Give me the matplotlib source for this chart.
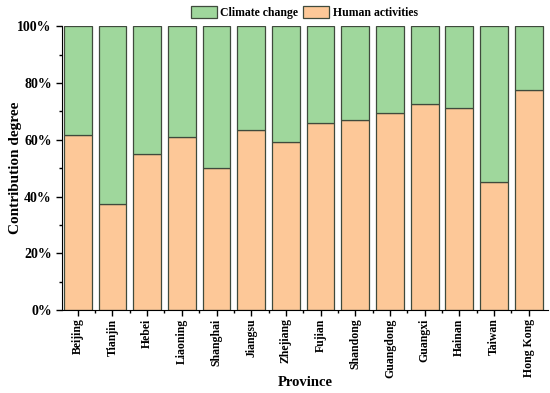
import numpy as np
import matplotlib
matplotlib.use("Agg")
import matplotlib.pyplot as plt
from matplotlib.ticker import PercentFormatter, MultipleLocator

# Data
provinces = ["Beijing", "Tianjin", "Hebei", "Liaoning", "Shanghai", "Jiangsu", "Zhejiang",
             "Fujian", "Shandong", "Guangdong", "Guangxi", "Hainan", "Taiwan", "Hong Kong"]
human = [61.8, 37.5, 55.1, 61.1, 50.1, 63.6, 59.4, 66.1, 66.9, 69.4, 72.7, 71.1, 45.3, 77.5]
climate = [100 - h for h in human]

plt.rcParams['font.family'] = ['Liberation Serif', 'DejaVu Serif']
plt.rcParams['font.weight'] = 'bold'

fig = plt.figure(figsize=(5.5, 3.93), dpi=100)
ax = fig.add_axes([0.113, 0.211, 0.883, 0.722])

x = np.arange(len(provinces))
edge = '#3f4a3c'
b1 = ax.bar(x, human, width=0.8, color='#fdc898', edgecolor=edge, linewidth=0.9,
            label='Human activities')
b2 = ax.bar(x, climate, width=0.8, bottom=human, color='#9fd79c', edgecolor=edge,
            linewidth=0.9, label='Climate change')

ax.set_xlim(-0.45, 13.55)
ax.set_ylim(0, 100)
ax.yaxis.set_major_locator(MultipleLocator(20))
ax.yaxis.set_minor_locator(MultipleLocator(10))
ax.yaxis.set_major_formatter(PercentFormatter(decimals=0))
ax.set_xticks(x)
ax.set_xticks(x[:-1] + 0.5, minor=True)
ax.set_xticklabels(provinces, rotation=90, fontsize=8.5, fontweight='bold')
for lab in ax.get_yticklabels():
    lab.set_fontsize(10)
    lab.set_fontweight('bold')

ax.tick_params(axis='both', which='major', direction='out', length=4, width=1)
ax.tick_params(axis='x', which='major', pad=2)
ax.tick_params(axis='both', which='minor', direction='out', length=2, width=1)
ax.spines['top'].set_visible(False)
ax.spines['right'].set_visible(False)

ax.set_xlabel('Province', fontsize=10.5, fontweight='bold')
ax.xaxis.label.set_va('center')
ax.xaxis.set_label_coords(0.5, -0.257)
ax.set_ylabel('Contribution degree', fontsize=11, fontweight='bold')
ax.yaxis.label.set_va('center')
ax.yaxis.set_label_coords(-0.097, 0.5)

fig.legend(handles=[b2, b1], labels=['Climate change', 'Human activities'],
           loc='upper center', bbox_to_anchor=(0.553, 1.012), ncol=2, frameon=False,
           handlelength=2.2, handleheight=1.15, columnspacing=0.4,
           handletextpad=0.3, prop={'weight': 'bold', 'size': 8.5})

fig.savefig('out.png', dpi=100)
